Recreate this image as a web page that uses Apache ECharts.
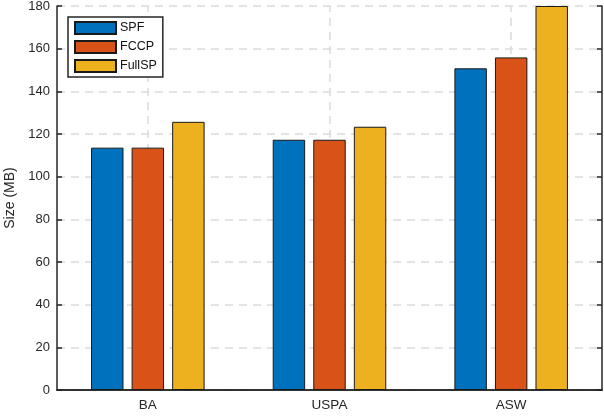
<!DOCTYPE html>
<html>
<head>
<meta charset="utf-8">
<script src="https://cdn.jsdelivr.net/npm/echarts@6/dist/echarts.min.js"></script>
<style>
  html, body { margin: 0; padding: 0; background: #fff; }
  #chart { width: 604px; height: 417px; }
</style>
</head>
<body>
<div id="chart"></div>
<script>
// Storage size per dataset for each method
const categories = ['BA', 'USPA', 'ASW'];
const spf = [113.6, 117.3, 150.8];
const fccp = [113.6, 117.3, 155.9];
const fullsp = [125.7, 123.4, 180];
const yTicks = [0, 20, 40, 60, 80, 100, 120, 140, 160, 180];

const FONT = 'Liberation Sans, Arial, Helvetica, sans-serif';
const AXIS_COLOR = '#262626';
const GRID_LINE = { color: '#dadada', width: 1.5, type: [8, 6] };

const chart = echarts.init(document.getElementById('chart'), null, { renderer: 'canvas' });

function barSeries(name, data, color) {
  return {
    name: name,
    type: 'bar',
    data: data,
    z: 3,
    barGap: '25%',
    barCategoryGap: '37.5%',
    itemStyle: { color: color, borderColor: '#1a1a1a', borderWidth: 1 },
    emphasis: { disabled: true },
    animation: false
  };
}

chart.setOption({
  animation: false,
  textStyle: { fontFamily: FONT },
  grid: {
    left: 57, right: 2, top: 6, bottom: 27,
    containLabel: false,
    outerBoundsMode: 'none'
  },
  legend: {
    orient: 'vertical',
    left: 68,
    top: 17,
    padding: [4, 6, 4, 6],
    icon: 'rect',
    itemWidth: 41,
    itemHeight: 12,
    itemGap: 5,
    backgroundColor: '#fff',
    borderColor: AXIS_COLOR,
    borderWidth: 1.5,
    textStyle: { fontFamily: FONT, fontSize: 12.5, color: '#111', padding: [0, 0, 0, -1] },
    data: ['SPF', 'FCCP', 'FullSP'],
    selectedMode: false
  },
  xAxis: [
    {
      type: 'category',
      data: categories,
      position: 'bottom',
      axisLine: { lineStyle: { color: AXIS_COLOR, width: 1.5 } },
      axisTick: { inside: true, alignWithLabel: true, length: 5, lineStyle: { color: AXIS_COLOR, width: 1.5 } },
      axisLabel: { color: AXIS_COLOR, fontSize: 13.5, fontFamily: FONT, margin: 8 },
      splitLine: { show: false }
    },
    {
      type: 'category',
      data: categories,
      position: 'top',
      axisLine: { lineStyle: { color: AXIS_COLOR, width: 1.5 } },
      axisTick: { inside: true, alignWithLabel: true, length: 5, lineStyle: { color: AXIS_COLOR, width: 1.5 } },
      axisLabel: { show: false },
      splitLine: { show: false }
    }
  ],
  yAxis: [
    {
      type: 'value',
      min: 0,
      max: 180,
      interval: 20,
      position: 'left',
      name: 'Size (MB)',
      nameLocation: 'middle',
      nameGap: 35,
      nameTextStyle: { color: AXIS_COLOR, fontSize: 14, fontFamily: FONT },
      axisLine: { show: true, lineStyle: { color: AXIS_COLOR, width: 1.5 } },
      axisTick: { show: true, inside: true, length: 5, lineStyle: { color: AXIS_COLOR, width: 1.5 } },
      axisLabel: {
        color: AXIS_COLOR, fontSize: 13, fontFamily: FONT, margin: 7,
        formatter: v => (yTicks.indexOf(v) >= 0 ? String(v) : '')
      },
      splitLine: { show: true, lineStyle: GRID_LINE }
    },
    {
      type: 'value',
      min: 0,
      max: 180,
      interval: 20,
      position: 'right',
      axisLine: { show: true, lineStyle: { color: AXIS_COLOR, width: 1.5 } },
      axisTick: { show: true, inside: true, length: 5, lineStyle: { color: AXIS_COLOR, width: 1.5 } },
      axisLabel: { show: false },
      splitLine: { show: false }
    }
  ],
  series: [
    // vertical grid lines at the category centres, kept behind the bars
    {
      type: 'line',
      data: [],
      z: 1,
      silent: true,
      markLine: {
        z: 1,
        silent: true,
        symbol: ['none', 'none'],
        label: { show: false },
        lineStyle: GRID_LINE,
        data: categories.map(c => ({ xAxis: c }))
      }
    },
    barSeries('SPF', spf, '#0072BD'),
    barSeries('FCCP', fccp, '#D95319'),
    barSeries('FullSP', fullsp, '#EDB120')
  ]
});
</script>
</body>
</html>
